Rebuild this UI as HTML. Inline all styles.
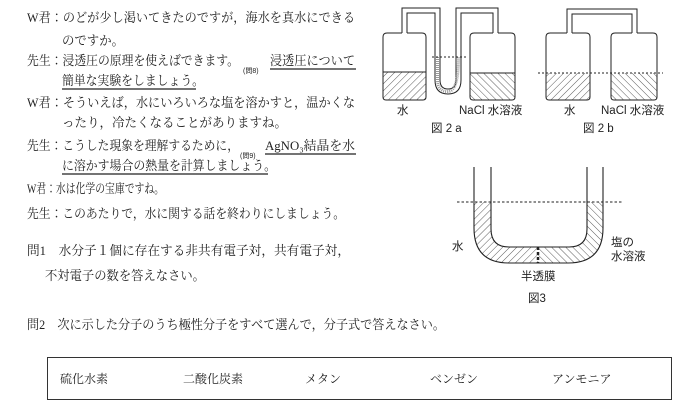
<!DOCTYPE html>
<html><head><meta charset="utf-8"><style>
html,body{margin:0;padding:0;background:#fff;}
svg{display:block;}
.t{font-family:"Liberation Serif","Noto Serif CJK JP",serif;font-size:13px;fill:#222;}
.g{font-family:"Liberation Sans","Noto Sans CJK JP",sans-serif;font-size:11.5px;fill:#222;}
.s{font-family:"Liberation Sans","Noto Sans CJK JP",sans-serif;font-size:7px;fill:#222;}
</style></head><body>
<svg width="677" height="409" viewBox="0 0 677 409" xmlns="http://www.w3.org/2000/svg">
<defs>
<pattern id="hl" width="5" height="5" patternUnits="userSpaceOnUse" patternTransform="rotate(45)"><line x1="0" y1="0" x2="0" y2="5" stroke="#333" stroke-width="0.8"/></pattern>
<pattern id="hr" width="5" height="5" patternUnits="userSpaceOnUse" patternTransform="rotate(-45)"><line x1="0" y1="0" x2="0" y2="5" stroke="#333" stroke-width="0.8"/></pattern>
</defs>
<g lengthAdjust="spacingAndGlyphs">
<text class="t" x="27" y="22" textLength="328" lengthAdjust="spacingAndGlyphs">W君：のどが少し渇いてきたのですが，海水を真水にできる</text>
<text class="t" x="62" y="45" textLength="62" lengthAdjust="spacingAndGlyphs">のですか。</text>
<text class="t" x="27" y="65" textLength="212" lengthAdjust="spacingAndGlyphs">先生：浸透圧の原理を使えばできます。</text>
<text class="s" x="243" y="73">(問8)</text>
<text class="t" x="270" y="65" textLength="85" lengthAdjust="spacingAndGlyphs">浸透圧について</text>
<line x1="270" y1="69" x2="356" y2="69" stroke="#222" stroke-width="1.2"/>
<text class="t" x="62" y="85" textLength="142" lengthAdjust="spacingAndGlyphs">簡単な実験をしましょう。</text>
<line x1="62" y1="89" x2="196" y2="89" stroke="#222" stroke-width="1.2"/>
<text class="t" x="27" y="107" textLength="328" lengthAdjust="spacingAndGlyphs">W君：そういえば，水にいろいろな塩を溶かすと，温かくな</text>
<text class="t" x="62" y="127" textLength="225" lengthAdjust="spacingAndGlyphs">ったり，冷たくなることがありますね。</text>
<text class="t" x="27" y="150" textLength="212" lengthAdjust="spacingAndGlyphs">先生：こうした現象を理解するために，</text>
<text class="s" x="240" y="158">(問9)</text>
<text class="t" x="265" y="150" textLength="90" lengthAdjust="spacingAndGlyphs">AgNO₃結晶を水</text>
<line x1="265" y1="154" x2="356" y2="154" stroke="#222" stroke-width="1.2"/>
<text class="t" x="62" y="170" textLength="214" lengthAdjust="spacingAndGlyphs">に溶かす場合の熱量を計算しましょう。</text>
<line x1="62" y1="174" x2="268" y2="174" stroke="#222" stroke-width="1.2"/>
<text class="t" x="27" y="193" textLength="137" lengthAdjust="spacingAndGlyphs">W君：水は化学の宝庫ですね。</text>
<text class="t" x="27" y="218" textLength="318" lengthAdjust="spacingAndGlyphs">先生：このあたりで，水に関する話を終わりにしましょう。</text>
<text class="t" x="27" y="255" textLength="323" lengthAdjust="spacingAndGlyphs">問1　水分子１個に存在する非共有電子対，共有電子対，</text>
<text class="t" x="45" y="280" textLength="160" lengthAdjust="spacingAndGlyphs">不対電子の数を答えなさい。</text>
<text class="t" x="27" y="329" textLength="418" lengthAdjust="spacingAndGlyphs">問2　次に示した分子のうち極性分子をすべて選んで，分子式で答えなさい。</text>
</g>
<rect x="47.5" y="357.5" width="624" height="42" fill="none" stroke="#333" stroke-width="1"/>
<g class="t" style="font-size:12px">
<text x="60" y="383">硫化水素</text><text x="183" y="383">二酸化炭素</text><text x="305" y="383">メタン</text><text x="430" y="383">ベンゼン</text><text x="552" y="383">アンモニア</text>
</g>

<g fill="none" stroke="#222" stroke-width="1">
<rect x="383" y="72" width="43" height="28" fill="url(#hl)" stroke="none"/>
<path d="M402,33 H387 Q383,33 383,37 V97 Q383,100 386,100 H423 Q426,100 426,97 V37 Q426,33 422,33 H407"/>
<line x1="383" y1="72" x2="426" y2="72"/>
<rect x="470" y="73" width="45" height="27" fill="url(#hr)" stroke="none"/>
<path d="M493,33 H474 Q470,33 470,37 V97 Q470,100 473,100 H512 Q515,100 515,97 V37 Q515,33 511,33 H498"/>
<line x1="470" y1="73" x2="515" y2="73"/>
<path d="M402,33 V8 H440 V80 Q440,89 448,89 Q456,89 456,80 V8 H498 V33"/>
<path d="M407,33 V13 H435 V80 Q435,94 448,94 Q461,94 461,80 V13 H493 V33" />
<path d="M437.5,57 V80 Q437.5,91.5 448,91.5 Q458.5,91.5 458.5,57" stroke="#999" stroke-width="3" stroke-dasharray="1 1"/>
<line x1="432" y1="57" x2="466" y2="57" stroke-dasharray="2 2"/>
</g>
<text class="g" x="397" y="114">水</text>
<text class="g" x="459" y="114">NaCl 水溶液</text>
<text class="g" x="431" y="132">図 2 a</text>

<g fill="none" stroke="#222" stroke-width="1">
<rect x="546" y="73" width="44" height="27" fill="url(#hl)" stroke="none"/>
<path d="M567,33 H550 Q546,33 546,37 V97 Q546,100 549,100 H587 Q590,100 590,97 V37 Q590,33 586,33 H572"/>
<rect x="611" y="73" width="46" height="27" fill="url(#hr)" stroke="none"/>
<path d="M632,33 H615 Q611,33 611,37 V97 Q611,100 614,100 H654 Q657,100 657,97 V37 Q657,33 653,33 H637"/>
<path d="M567,33 V9 H637 V33"/>
<path d="M572,33 V14 H632 V33"/>
<line x1="538" y1="73" x2="663" y2="73" stroke-dasharray="2 2"/>
</g>
<text class="g" x="564" y="114">水</text>
<text class="g" x="601" y="114">NaCl 水溶液</text>
<text class="g" x="583" y="132">図 2 b</text>

<path d="M474,202 V228 Q474,263 509,263 H568 Q603,263 603,228 V202 H587 V229 Q587,247 569,247 H509 Q491,247 491,229 V202 Z" fill="url(#hl)"/>
<path d="M538,247 H569 Q587,247 587,229 V202 H603 V228 Q603,263 568,263 H538 Z" fill="#fff"/>
<path d="M538,247 H569 Q587,247 587,229 V202 H603 V228 Q603,263 568,263 H538 Z" fill="url(#hr)"/>
<g fill="none" stroke="#222" stroke-width="1.1">
<path d="M474,167 V228 Q474,263 509,263 H568 Q603,263 603,228 V167"/>
<path d="M491,167 V229 Q491,247 509,247 H569 Q587,247 587,229 V167"/>
<line x1="457" y1="202" x2="622" y2="202" stroke-dasharray="2.5 2"/>
<line x1="538" y1="247" x2="538" y2="263" stroke-width="2.5" stroke-dasharray="3 2"/>
</g>
<text class="g" x="452" y="250">水</text>
<text class="g" x="611" y="246">塩の</text>
<text class="g" x="611" y="260">水溶液</text>
<text class="g" x="521" y="280">半透膜</text>
<text class="g" x="528" y="302">図3</text>
</svg>
</body></html>
